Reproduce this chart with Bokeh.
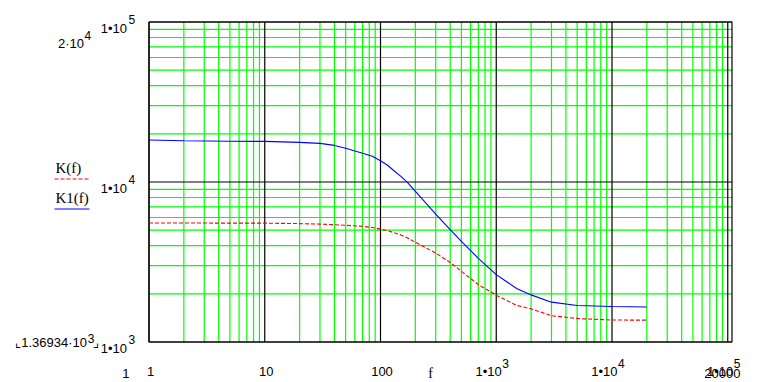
from bokeh.plotting import figure
from bokeh.models import Label, Range1d
from bokeh.embed import file_html
from bokeh.resources import INLINE

# ---------------- data ----------------
f = [1, 2, 5, 10, 20, 30, 40, 50, 70, 85, 100, 115, 130, 150, 170, 220, 300,
     400, 500, 700, 1000, 1500, 2000, 3000, 5000, 10000, 20000]
K1 = [18300, 18120, 17990, 17940, 17680, 17430, 16930, 16260, 15120, 14480,
      13590, 12720, 11800, 10850, 9970, 8090, 6300, 5035, 4255, 3335, 2636,
      2160, 1970, 1774, 1691, 1667, 1655]
K = [5544, 5540, 5535, 5530, 5495, 5457, 5409, 5363, 5286, 5195, 5077, 4955,
     4836, 4666, 4488, 4045, 3597, 3140, 2770, 2285, 1961, 1694, 1611, 1460,
     1403, 1372, 1369.34]

x_ticks = [1, 10, 100, 1e3, 1e4, 1e5]
x_tick_labels = ["1", "10", "100", "1•10^3", "1•10^4", "1•10^5"]
y_ticks = [1e3, 1e4, 1e5]
y_tick_labels = ["1•10^3", "1•10^4", "1•10^5"]
x_minor = [k * 10 ** n for n in range(0, 5) for k in range(2, 10)]
y_minor = [k * 10 ** n for n in range(3, 5) for k in range(2, 10)]
x_limit_labels = ["1", "20000"]
y_limit_labels = ["2·10^4", "⌞1.36934·10^3⌟"]
series_names = ["K(f)", "K1(f)"]
x_name = "f"

# ---------------- geometry ----------------
W, H = 760, 382
X0PX, DX = 148.5, 115.75     # pixel of x=1, px per decade
Y5PX, DY = 21.5, 160.0       # pixel of y=1e5, px per decade

def xpx(px):  # canvas pixel -> data x
    return 10 ** ((px - X0PX) / DX)

def ypx(py):  # canvas pixel -> data y
    return 10 ** (5 - (py - Y5PX) / DY)

X_MIN, X_MAX = 1, xpx(731.5)
Y_MIN, Y_MAX = 1e3, 1e5

SANS = "Liberation Sans"
SERIF = "Liberation Serif"
GREEN = "#00ff00"
GRID_W = 1.2

p = figure(width=W, height=H, x_axis_type="log", y_axis_type="log",
           x_range=Range1d(xpx(0), xpx(W)), y_range=Range1d(ypx(H), ypx(0)),
           x_axis_location=None, y_axis_location=None,
           output_backend="svg", toolbar_location=None, title=None,
           min_border=0, min_border_left=0, min_border_right=0,
           min_border_top=0, min_border_bottom=0)
p.background_fill_color = "white"
p.border_fill_color = "white"
p.outline_line_color = None
p.grid.visible = False

# ---------------- grid ----------------
xm = [x for x in x_minor if X_MIN < x < X_MAX]
p.segment(x0=xm, x1=xm, y0=[Y_MIN] * len(xm), y1=[Y_MAX] * len(xm),
          line_color=GREEN, line_width=GRID_W)
p.segment(x0=[X_MIN] * len(y_minor), x1=[X_MAX] * len(y_minor),
          y0=y_minor, y1=y_minor, line_color=GREEN, line_width=GRID_W)
xM = [x for x in x_ticks if X_MIN <= x < X_MAX]
p.segment(x0=xM, x1=xM, y0=[Y_MIN] * len(xM), y1=[Y_MAX] * len(xM),
          line_color="black", line_width=GRID_W)
p.segment(x0=[X_MIN] * len(y_ticks), x1=[X_MAX] * len(y_ticks),
          y0=y_ticks, y1=y_ticks, line_color="black", line_width=GRID_W)
p.quad(left=[X_MIN], right=[X_MAX], bottom=[Y_MIN], top=[Y_MAX],
       fill_color=None, line_color="black", line_width=GRID_W)

# ---------------- curves ----------------
p.line(f, K, line_color="red", line_width=1.1, line_dash="4 2")
p.line(f, K1, line_color="blue", line_width=1.1)


def add_label(x, y, text, align="left", font=SANS, size="13px", x_offset=0):
    p.add_layout(Label(x=x, y=y, text=text, text_align=align,
                       text_baseline="alphabetic", text_font=font,
                       text_font_size=size, text_color="black",
                       x_offset=x_offset))


def split_sup(lab):
    if "^" not in lab:
        return lab, "", ""
    base, rest = lab.split("^", 1)
    i = 0
    while i < len(rest) and rest[i].isdigit():
        i += 1
    return base, rest[:i], rest[i:]

# x tick labels
for t, lab in zip(x_ticks, x_tick_labels):
    base, e, tail = split_sup(lab)
    if e:
        add_label(t, ypx(371.0), base, align="right", x_offset=5.5)
        add_label(t, ypx(362.5), e, align="left", size="12px", x_offset=6)
    else:
        add_label(t, ypx(371.0), base, align="center", x_offset=1.5)

# y tick labels
for t, lab in zip(y_ticks, y_tick_labels):
    base, e, tail = split_sup(lab)
    add_label(X_MIN, t * 10 ** (-6.5 / DY), base, align="right", x_offset=-22)
    add_label(X_MIN, t * 10 ** (2.5 / DY), e, align="left", size="12px", x_offset=-20.5)

# y limit labels
base, e, tail = split_sup(y_limit_labels[0])
add_label(xpx(83.5), ypx(43.3), base, align="right")
add_label(xpx(84.0), ypx(35.0), e, align="left", size="12px")
base, e, tail = split_sup(y_limit_labels[1])
add_label(xpx(86.5), ypx(342.3), base, align="right")
add_label(xpx(87.3), ypx(338.0), e, align="left", size="12px")
add_label(xpx(92.5), ypx(342.3), tail, align="left")

# x limit labels and variable name
add_label(xpx(121.7), ypx(373), x_limit_labels[0], align="left")
add_label(xpx(740.0), ypx(373), x_limit_labels[1], align="right")
add_label(xpx(427.7), ypx(373), x_name, align="left", font=SERIF, size="14px")

# legend
add_label(xpx(55), ypx(167.5), series_names[0], font=SERIF, size="15px")
add_label(xpx(55), ypx(197.0), series_names[1], font=SERIF, size="15px")
p.line([xpx(54), xpx(88.5)], [ypx(178.5), ypx(178.5)],
       line_color="red", line_width=1.1, line_dash="4 2")
p.line([xpx(54), xpx(89)], [ypx(208.5), ypx(208.5)],
       line_color="blue", line_width=1.1)

open("out.html", "w").write(file_html(p, INLINE))
